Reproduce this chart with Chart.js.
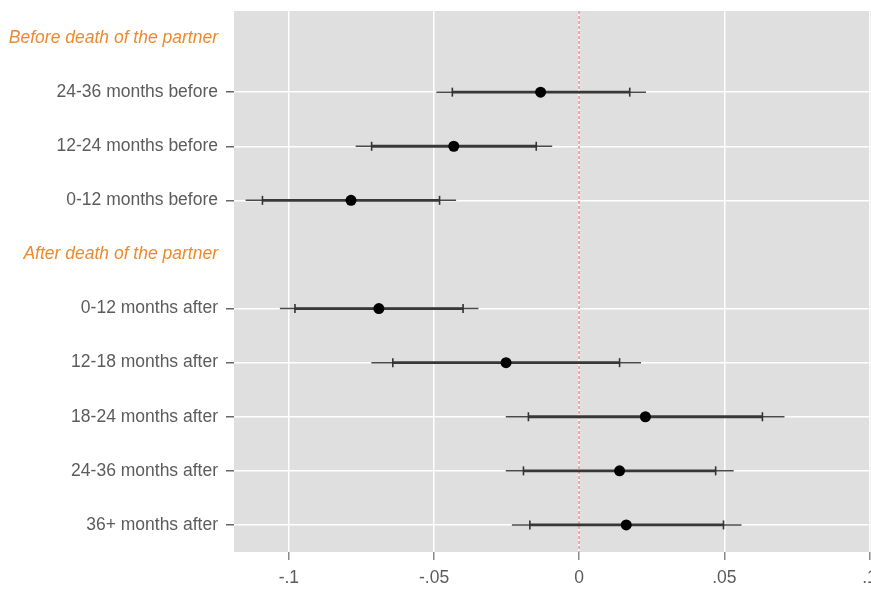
<!DOCTYPE html>
<html>
<head>
<meta charset="utf-8">
<script src="https://cdn.jsdelivr.net/npm/chart.js@4"></script>
<style>
  html, body { margin: 0; padding: 0; background: #ffffff; }
  #wrap { width: 871px; height: 589px; position: relative; }
</style>
</head>
<body>
<div id="wrap"><canvas id="c"></canvas></div>
<script>
// ---- data ----
const rowLabels = [
  "Before death of the partner",
  "24-36 months before",
  "12-24 months before",
  "0-12 months before",
  "After death of the partner",
  "0-12 months after",
  "12-18 months after",
  "18-24 months after",
  "24-36 months after",
  "36+ months after"
];
const headerLabels = ["Before death of the partner", "After death of the partner"];
const categories = [
  "24-36 months before",
  "12-24 months before",
  "0-12 months before",
  "0-12 months after",
  "12-18 months after",
  "18-24 months after",
  "24-36 months after",
  "36+ months after"
];
const estimate = [-0.0133, -0.0432, -0.0786, -0.0690, -0.0252, 0.0228, 0.0139, 0.0162];
const ciOuterLow  = [-0.0492, -0.0770, -0.1149, -0.1031, -0.0716, -0.0253, -0.0253, -0.0232];
const ciOuterHigh = [ 0.0230, -0.0093, -0.0424, -0.0347,  0.0213,  0.0707,  0.0532,  0.0559];
const ciInnerLow  = [-0.0437, -0.0715, -0.1091, -0.0979, -0.0642, -0.0175, -0.0192, -0.0170];
const ciInnerHigh = [ 0.0174, -0.0148, -0.0481, -0.0400,  0.0139,  0.0631,  0.0470,  0.0497];
const xTickValues = [-0.1, -0.05, 0, 0.05, 0.1];
const xTickLabels = ["-.1", "-.05", "0", ".05", ".1"];
const refLineValue = 0;

// ---- styling ----
const FONT = "'Liberation Sans', Arial, sans-serif";
const AXIS_TEXT = "#5c5c5c";
const HEADER_TEXT = "#ee8a2c";
const PANEL_BG = "#dfdfdf";
const isHeader = (i) => headerLabels.includes(rowLabels[i]);

const datasets = [];
categories.forEach((cat, i) => {
  datasets.push({
    type: 'line',
    data: [{x: ciOuterLow[i], y: cat}, {x: ciOuterHigh[i], y: cat}],
    borderColor: '#4a4a4a', borderWidth: 1.5, pointRadius: 0, order: 4
  });
  datasets.push({
    type: 'line',
    data: [{x: ciInnerLow[i], y: cat}, {x: ciInnerHigh[i], y: cat}],
    borderColor: '#383838', borderWidth: 2.8, pointRadius: 0, order: 3
  });
});
datasets.push({
  type: 'scatter',
  data: categories.flatMap((cat, i) => [{x: ciInnerLow[i], y: cat}, {x: ciInnerHigh[i], y: cat}]),
  pointStyle: 'line', rotation: 90, radius: 4.5, borderColor: '#333333', borderWidth: 1.6,
  backgroundColor: '#333333', order: 2
});
datasets.push({
  type: 'scatter',
  data: categories.map((cat, i) => ({x: estimate[i], y: cat})),
  pointStyle: 'circle', radius: 5.5, backgroundColor: '#000000', borderColor: '#000000', borderWidth: 0,
  order: 1
});

const panelPlugin = {
  id: 'panel',
  beforeDraw(chart) {
    const {ctx, chartArea: a} = chart;
    ctx.save();
    ctx.fillStyle = PANEL_BG;
    ctx.fillRect(a.left, a.top, a.right - a.left, a.bottom - a.top);
    ctx.restore();
  },
  beforeDatasetsDraw(chart) {
    const {ctx, chartArea: a} = chart;
    const x = Math.round(chart.scales.x.getPixelForValue(refLineValue));
    ctx.save();
    ctx.strokeStyle = '#f29494';
    ctx.lineWidth = 1.6;
    ctx.setLineDash([3, 2]);
    ctx.beginPath();
    ctx.moveTo(x, a.top);
    ctx.lineTo(x, a.bottom);
    ctx.stroke();
    ctx.restore();
  }
};

new Chart(document.getElementById('c'), {
  type: 'scatter',
  data: { datasets },
  plugins: [panelPlugin],
  options: {
    responsive: true,
    maintainAspectRatio: false,
    animation: false,
    layout: { autoPadding: false, padding: { top: 11, right: 0, left: 0, bottom: 0 } },
    plugins: { legend: { display: false }, tooltip: { enabled: false } },
    scales: {
      x: {
        type: 'linear',
        min: -0.1189,
        max: 0.1005,
        afterBuildTicks(scale) { scale.ticks = xTickValues.map(v => ({value: v})); },
        afterFit(scale) { scale.height = 37; scale.paddingLeft = 0; scale.paddingRight = 0; },
        border: { display: false },
        grid: { color: '#ffffff', lineWidth: 1.5, tickColor: '#8a8a8a', tickLength: 8, drawTicks: true },
        ticks: {
          color: AXIS_TEXT,
          font: { family: FONT, size: 17.5 },
          padding: 8,
          maxRotation: 0,
          autoSkip: false,
          callback: (v) => { const k = xTickValues.findIndex(t => Math.abs(t - v) < 1e-9); return k >= 0 ? xTickLabels[k] : ''; }
        }
      },
      y: {
        type: 'category',
        labels: rowLabels,
        offset: true,
        afterFit(scale) { scale.width = 234; scale.paddingTop = 0; scale.paddingBottom = 0; },
        border: { display: false },
        grid: {
          offset: false,
          color: (ctx) => isHeader(ctx.index) ? 'rgba(0,0,0,0)' : '#ffffff',
          tickColor: (ctx) => isHeader(ctx.index) ? 'rgba(0,0,0,0)' : '#666666',
          lineWidth: 1.5,
          tickLength: 8,
          drawTicks: true
        },
        ticks: {
          autoSkip: false,
          padding: 8,
          color: (ctx) => isHeader(ctx.index) ? HEADER_TEXT : AXIS_TEXT,
          font: (ctx) => isHeader(ctx.index)
            ? { family: FONT, size: 17.5, style: 'italic' }
            : { family: FONT, size: 17.5 }
        }
      }
    }
  }
});
</script>
</body>
</html>
